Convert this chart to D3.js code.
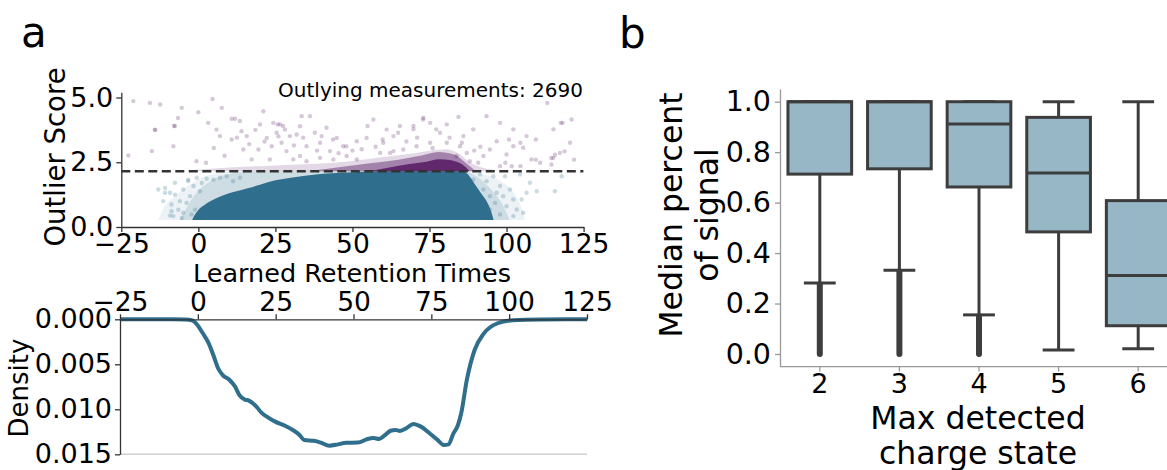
<!DOCTYPE html>
<html><head><meta charset="utf-8">
<script src="https://cdn.jsdelivr.net/npm/d3@7"></script>
<style>
body{margin:0;background:#fff;}
svg{display:block;font-family:"DejaVu Sans",sans-serif;}
</style></head><body>
<svg id="c" width="1167" height="470"></svg>
<script>
// ---------- data ----------
const rtTicks = [-25, 0, 25, 50, 75, 100, 125];
const scoreTicks = [0, 2.5, 5.0];
const threshold = 2.15;
const outlyingCount = 2690;
const coreBase = 0.27;
// dense (opaque) inlier cloud envelope
const coreX   = [-2, -1, 0, 2, 4, 6, 9, 12, 16, 20, 25, 30, 38, 45, 52, 60, 86, 88, 90, 92, 93.5, 95, 95.8];
const coreTop = [0.27, 0.5, 0.66, 0.85, 1.0, 1.12, 1.26, 1.37, 1.5, 1.63, 1.8, 1.9, 2.03, 2.08, 2.12, 2.15, 2.15, 1.95, 1.6, 1.25, 1.0, 0.6, 0.27];
// sparse inlier halo envelopes (outer, inner)
const haloX   = [-13, -11, -8, -5, -2, 1, 5, 10, 15, 86, 88, 92, 96, 100, 103, 105, 106];
const haloTop = [0.27, 0.8, 1.15, 1.45, 1.7, 1.9, 2.05, 2.12, 2.15, 2.15, 2.12, 2.05, 1.9, 1.6, 1.2, 0.7, 0.27];
const halo2X   = [-6, -4, -2, 0, 3, 6, 10, 15, 20, 86, 89, 92, 95, 98, 100, 101];
const halo2Top = [0.27, 0.7, 1.1, 1.4, 1.7, 1.9, 2.05, 2.12, 2.15, 2.15, 2.05, 1.8, 1.45, 1.0, 0.55, 0.27];
// outlier cloud envelopes above the threshold (sparse, medium, dense)
const purpleX   = [-2, 10, 20, 30, 40, 50, 60, 70, 80, 85, 88, 92, 96];
const purpleTop = [2.2, 2.3, 2.35, 2.4, 2.45, 2.55, 2.7, 2.85, 3.0, 2.8, 2.5, 2.3, 2.2];
const midX   = [35, 45, 55, 65, 72, 78, 83, 87, 90];
const midTop = [2.15, 2.3, 2.45, 2.6, 2.75, 2.9, 2.8, 2.45, 2.15];
const darkX   = [55, 62, 68, 74, 78, 82, 86, 88];
const darkTop = [2.15, 2.3, 2.42, 2.52, 2.62, 2.58, 2.38, 2.15];
// individual sparse outliers [rt, score]
const outlierPts = [
 [-21.1,4.86],[-15.7,4.79],[-12.4,4.73],[-14.1,3.76],[-15.1,2.93],[-22.7,2.76],[-7.6,3.9],[-5.4,4.6],[0.0,4.43],
 [-8.1,3.12],[-0.6,2.54],[2.5,2.48],[7.6,4.6],[3.2,4.02],[5.9,3.76],[7.0,3.51],[10.8,4.18],[11.9,4.18],[13.5,4.09],
 [14.0,3.7],[10.8,3.38],[15.7,3.51],[19.5,2.99],[14.6,2.99],[17.3,2.61],[21.1,4.47],[20.0,3.96],[24.3,4.02],[26.5,3.96],
 [28.1,3.76],[25.4,3.64],[22.2,3.44],[23.8,3.12],[27.0,3.25],[29.7,3.51],[31.9,3.57],[33.0,3.89],[33.5,4.28],[36.2,4.28],
 [37.8,3.64],[35.1,3.12],[39.5,3.25],[41.6,3.83],[42.7,2.93],[44.9,3.44],[47.0,3.12],[28.6,2.93],[30.8,2.61],[35.1,2.54],
 [39.5,2.67],[43.8,2.61],[48.1,2.74],[51.4,3.31],[54.6,3.44],[56.8,4.15],[61.1,3.76],[63.3,2.93],[59.0,2.86],[51.4,2.61],
 [23.2,2.61],[33.0,2.74],[84.4,4.25],[93.5,4.28],[97.9,4.02],[102.2,3.77],[106.5,3.51],[115.2,3.77],[118.2,4.02],[121.1,4.15],
 [120.6,3.25],[117.3,2.86],[115.2,2.67],[114.6,2.41],[110.9,2.48],[108.1,2.61],[105.4,3.06],[102.2,3.12],[96.8,3.31],[94.6,2.99],
 [92.5,2.74],[90.8,2.48],[97.9,2.35],[101.7,2.35],[100.0,2.8],[89.2,3.77],[86.0,3.51],[80.6,3.96],[75.2,4.02],[73.0,4.22],
 [69.8,3.77],[65.4,3.9],[63.3,3.51],[60.0,3.25],[78.4,3.64],[80.6,3.25],[84.9,3.12],[87.1,2.86],[75.2,3.25],[70.8,3.12],
 [66.5,2.99],[62.2,2.86],[88.1,2.54],[83.8,2.74],[113.2,4.79],[117.6,4.02],[114.5,2.66],[115.7,2.79],[118.8,2.92],[121.9,2.6],
 [99.6,2.48],[104.5,2.35],[109.5,2.6],[109.5,3.38],[104.5,3.25],[100.8,3.38],[72.9,4.15],[77.2,3.77],[69.8,3.9],[64.8,3.64],
 [59.8,3.38],[54.9,3.9],[48.0,3.12],[43.7,3.38],[40.0,3.51],[4.6,4.94],[-6.6,4.21],[-14.0,3.74],[-7.9,3.9],[25.7,3.96],[27.5,3.9],
 [12.5,3.45],[16.5,3.2],[18.5,3.75],[21.5,3.3],[26.0,3.5],[31.0,3.15],[34.0,3.45],[38.5,2.95],[45.5,2.85],[50.0,2.95],
 [53.0,3.0],[57.5,3.1],[67.5,3.3],[71.0,3.45],[76.0,3.05],[81.5,3.45],[85.5,3.25],[89.5,2.95],[91.5,3.1],[8.5,2.75],[5.0,3.05]
];
// individual sparse inliers in the halo [rt, score]
const haloPts = [
 [-10.8,1.51],[-9.2,1.32],[-7.6,1.25],[-8.7,0.87],[-6.5,0.67],[-4.9,0.55],[-8.1,0.42],[-5.4,0.35],[-3.8,0.93],[-2.7,1.19],
 [-4.9,1.45],[-1.6,1.58],[-3.3,1.77],[-0.5,1.9],[1.1,1.7],[2.7,1.86],[0.5,1.38],[-1.1,0.67],[4.9,1.83],[7.0,1.9],[9.2,1.96],
 [11.3,1.77],[13.5,1.9],[-2.2,0.48],[-13.0,1.45],[-10.8,1.32],[-8.7,0.61],[-11.4,1.0],[-6.0,1.0],[-7.6,1.71],[-3.3,1.83],[-9.2,0.44],
 [87.1,1.96],[89.2,1.83],[91.4,2.03],[93.5,1.77],[95.7,1.96],[97.9,1.58],[96.8,1.32],[98.9,1.19],[101.1,1.45],[102.2,1.06],
 [100.0,0.8],[103.3,0.68],[104.9,1.06],[105.4,0.55],[102.2,0.42],[97.9,0.48],[94.6,0.68],[96.3,0.93],[99.5,1.96],[104.4,2.03],
 [107.6,1.71],[109.8,1.38],[115.7,1.38],[117.9,1.96],[106.5,1.32],[92.5,1.45],[94.6,1.19],[90.8,1.06]
];
// density (KDE) of learned retention times
const densityX = [-25,-15,-8,-4,-2,-0.2,1.5,3.5,5,6.5,8,10.2,12,13.3,15,16.4,18.8,20.5,22.5,25,28,30.5,32.5,34.2,37.3,39.5,42.2,45,47.7,51.4,54.5,56.5,58.2,60,61.9,63.5,64.9,67,69.2,71.5,74.7,77,79,80.5,82.1,83.5,84.6,86.4,88.9,91.9,96.3,101.2,110,125];
const densityY = [0,0,0,0.00003,0.0001,0.0006,0.0015,0.00267,0.004,0.00544,0.0062,0.00674,0.0075,0.0084,0.0089,0.00904,0.0097,0.0104,0.01089,0.0114,0.01182,0.0123,0.0128,0.01341,0.0135,0.0137,0.01404,0.0139,0.01371,0.0137,0.0133,0.0132,0.0133,0.0129,0.01238,0.0123,0.0124,0.0121,0.01163,0.0119,0.01274,0.0134,0.01397,0.0139,0.01267,0.0118,0.01044,0.00674,0.00341,0.00156,0.00044,0.0001,0.00002,0];
const densityTicks = [0, 0.005, 0.010, 0.015];
// box plot: median percent of signal by max detected charge state
const charges  = ["2", "3", "4", "5", "6"];
const q1       = [0.713, 0.734, 0.662, 0.484, 0.112];
const medians  = [1.0, 1.0, 0.912, 0.717, 0.311];
const q3       = [1.0, 1.0, 1.0, 0.938, 0.608];
const whiskLo  = [0.281, 0.332, 0.155, 0.016, 0.021];
const whiskHi  = [1.0, 1.0, 1.0, 1.0, 1.0];
const flierLo  = [0.0, 0.0, 0.0, null, null];
const flierHi  = [0.275, 0.325, 0.148, null, null];
const percentTicks = [0, 0.2, 0.4, 0.6, 0.8, 1.0];

// ---------- drawing ----------
const svg = d3.select("#c");
svg.append("rect").attr("width",1167).attr("height",470).attr("fill","#fff");
const TEAL = "#2f6e8c", PURPLE = "#440154";

// panel a, top: scatter
const xS = d3.scaleLinear().domain([-25,125]).range([121.3,583.6]);
const yS = d3.scaleLinear().domain([0,5.2]).range([227,92.3]);
const defs = svg.append("defs");
defs.append("clipPath").attr("id","clipA").append("rect")
  .attr("x",xS(-25)).attr("y",yS(5.2)).attr("width",xS(125)-xS(-25)).attr("height",yS(0)-yS(5.2));
const gA = svg.append("g").attr("clip-path","url(#clipA)");
const areaOf = (xs, ys, base) => d3.area().x((d,i)=>xS(xs[i])).y0(yS(base)).y1((d,i)=>yS(ys[i])).curve(d3.curveMonotoneX)(xs);

gA.append("path").attr("d", areaOf(haloX, haloTop, coreBase)).attr("fill", TEAL).attr("opacity",0.09);
gA.append("path").attr("d", areaOf(halo2X, halo2Top, coreBase)).attr("fill", TEAL).attr("opacity",0.16);
gA.selectAll("circle.h").data(haloPts).join("circle").attr("class","h")
  .attr("cx",d=>xS(d[0])).attr("cy",d=>yS(d[1])).attr("r",2.2).attr("fill",TEAL).attr("opacity",0.25);
gA.append("path").attr("d", areaOf(coreX, coreTop, coreBase)).attr("fill", TEAL);
gA.append("path").attr("d", areaOf(purpleX, purpleTop, threshold)).attr("fill", PURPLE).attr("opacity",0.15);
gA.append("path").attr("d", areaOf(midX, midTop, threshold)).attr("fill", PURPLE).attr("opacity",0.4);
gA.append("path").attr("d", areaOf(darkX, darkTop, threshold)).attr("fill", PURPLE).attr("opacity",0.7);
gA.selectAll("circle.o").data(outlierPts).join("circle").attr("class","o")
  .attr("cx",d=>xS(d[0])).attr("cy",d=>yS(d[1])).attr("r",2.2).attr("fill",PURPLE).attr("opacity",0.22);
gA.append("line").attr("x1",xS(-25)).attr("x2",xS(125)).attr("y1",yS(threshold)).attr("y2",yS(threshold))
  .attr("stroke","#333").attr("stroke-width",2.4).attr("stroke-dasharray","9,4.5");

function styleAxis(g, color, fs){
  g.selectAll(".domain").attr("stroke",color).attr("stroke-width",1.3);
  g.selectAll(".tick line").attr("stroke",color).attr("stroke-width",1.3);
  g.selectAll(".tick text").attr("fill","#000").attr("font-size",fs).attr("font-family","DejaVu Sans");
}
const axAx = svg.append("g").attr("transform",`translate(0,${yS(0)})`)
  .call(d3.axisBottom(xS).tickValues(rtTicks).tickSize(5).tickSizeOuter(0).tickPadding(2));
styleAxis(axAx,"#333",26.5);
const axAy = svg.append("g").attr("transform",`translate(${xS(-25)},0)`)
  .call(d3.axisLeft(yS).tickValues(scoreTicks).tickFormat(d3.format(".1f")).tickSize(5).tickSizeOuter(0).tickPadding(3));
styleAxis(axAy,"#333",27);
svg.append("text").attr("x",583).attr("y",97).attr("text-anchor","end").attr("font-size",20)
  .text(`Outlying measurements: ${outlyingCount}`);
svg.append("text").attr("x",352).attr("y",282).attr("text-anchor","middle").attr("font-size",25.5)
  .text("Learned Retention Times");
svg.append("text").attr("transform","translate(65,157) rotate(-90)").attr("text-anchor","middle").attr("font-size",27.5)
  .text("Outlier Score");

// panel a, bottom: density (inverted)
const xD = d3.scaleLinear().domain([-25,125]).range([120,587]);
const yD = d3.scaleLinear().domain([0,0.015]).range([319.3,454.3]);
svg.append("line").attr("x1",xD(-25)).attr("x2",xD(125)).attr("y1",yD(0.015)).attr("y2",yD(0.015))
  .attr("stroke","#d0d0d0").attr("stroke-width",1.5);
svg.append("path").datum(densityX)
  .attr("d", d3.line().x((d,i)=>xD(densityX[i])).y((d,i)=>yD(densityY[i])).curve(d3.curveMonotoneX))
  .attr("fill","none").attr("stroke",TEAL).attr("stroke-width",4).attr("stroke-linejoin","round");
const axDx = svg.append("g").attr("transform",`translate(0,${yD(0)})`)
  .call(d3.axisTop(xD).tickValues(rtTicks).tickSize(5).tickSizeOuter(0).tickPadding(3));
styleAxis(axDx,"#333",26.5);
const axDy = svg.append("g").attr("transform",`translate(${xD(-25)},0)`)
  .call(d3.axisLeft(yD).tickValues(densityTicks).tickFormat(d3.format(".3f")).tickSize(5).tickSizeOuter(0).tickPadding(3));
styleAxis(axDy,"#333",27);
svg.append("text").attr("transform","translate(28,388) rotate(-90)").attr("text-anchor","middle").attr("font-size",26)
  .text("Density");

// panel b: boxplot
const xB = d3.scaleBand().domain(charges).range([780,780+5*79.6]).paddingInner(0.2).paddingOuter(0.1);
const yB = d3.scaleLinear().domain([-0.05,1.05]).range([366.6,89.1]);
const LINE = "#3d3d3d";
const bw = xB.bandwidth(), cx = c => xB(c)+bw/2;
const gB = svg.append("g");
charges.forEach((c,i)=>{
  const g = gB.append("g");
  g.append("line").attr("x1",cx(c)).attr("x2",cx(c)).attr("y1",yB(q1[i])).attr("y2",yB(whiskLo[i])).attr("stroke",LINE).attr("stroke-width",3);
  g.append("line").attr("x1",cx(c)).attr("x2",cx(c)).attr("y1",yB(q3[i])).attr("y2",yB(whiskHi[i])).attr("stroke",LINE).attr("stroke-width",3);
  g.append("line").attr("x1",cx(c)-bw/4).attr("x2",cx(c)+bw/4).attr("y1",yB(whiskLo[i])).attr("y2",yB(whiskLo[i])).attr("stroke",LINE).attr("stroke-width",3);
  g.append("line").attr("x1",cx(c)-bw/4).attr("x2",cx(c)+bw/4).attr("y1",yB(whiskHi[i])).attr("y2",yB(whiskHi[i])).attr("stroke",LINE).attr("stroke-width",3);
  if (flierLo[i] !== null) {
    g.append("line").attr("x1",cx(c)).attr("x2",cx(c)).attr("y1",yB(flierHi[i])).attr("y2",yB(flierLo[i]))
      .attr("stroke",LINE).attr("stroke-width",6).attr("stroke-linecap","round");
  }
  g.append("rect").attr("x",xB(c)).attr("width",bw).attr("y",yB(q3[i])).attr("height",yB(q1[i])-yB(q3[i]))
    .attr("fill","#97b6c6").attr("stroke",LINE).attr("stroke-width",3);
  g.append("line").attr("x1",xB(c)).attr("x2",xB(c)+bw).attr("y1",yB(medians[i])).attr("y2",yB(medians[i])).attr("stroke",LINE).attr("stroke-width",3);
});
const axBx = svg.append("g").attr("transform",`translate(0,${yB(-0.05)})`)
  .call(d3.axisBottom(xB).tickSize(5).tickSizeOuter(0).tickPadding(2));
styleAxis(axBx,"#999",27);
const axBy = svg.append("g").attr("transform",`translate(780,0)`)
  .call(d3.axisLeft(yB).tickValues(percentTicks).tickFormat(d3.format(".1f")).tickSize(5).tickSizeOuter(0).tickPadding(4));
styleAxis(axBy,"#999",28.5);
axBx.select(".domain").attr("d",`M780,0H1167`);
svg.append("text").attr("x",978).attr("y",429).attr("text-anchor","middle").attr("font-size",31.5).text("Max detected");
svg.append("text").attr("x",978).attr("y",464).attr("text-anchor","middle").attr("font-size",31.5).text("charge state");
svg.append("text").attr("transform","translate(682,215) rotate(-90)").attr("text-anchor","middle").attr("font-size",31.5).text("Median percent");
svg.append("text").attr("transform","translate(718,215) rotate(-90)").attr("text-anchor","middle").attr("font-size",31.5).text("of signal");

// panel labels
svg.append("text").attr("x",21).attr("y",47).attr("font-size",42).text("a");
svg.append("text").attr("x",619).attr("y",48).attr("font-size",42).text("b");
</script>
</body></html>
